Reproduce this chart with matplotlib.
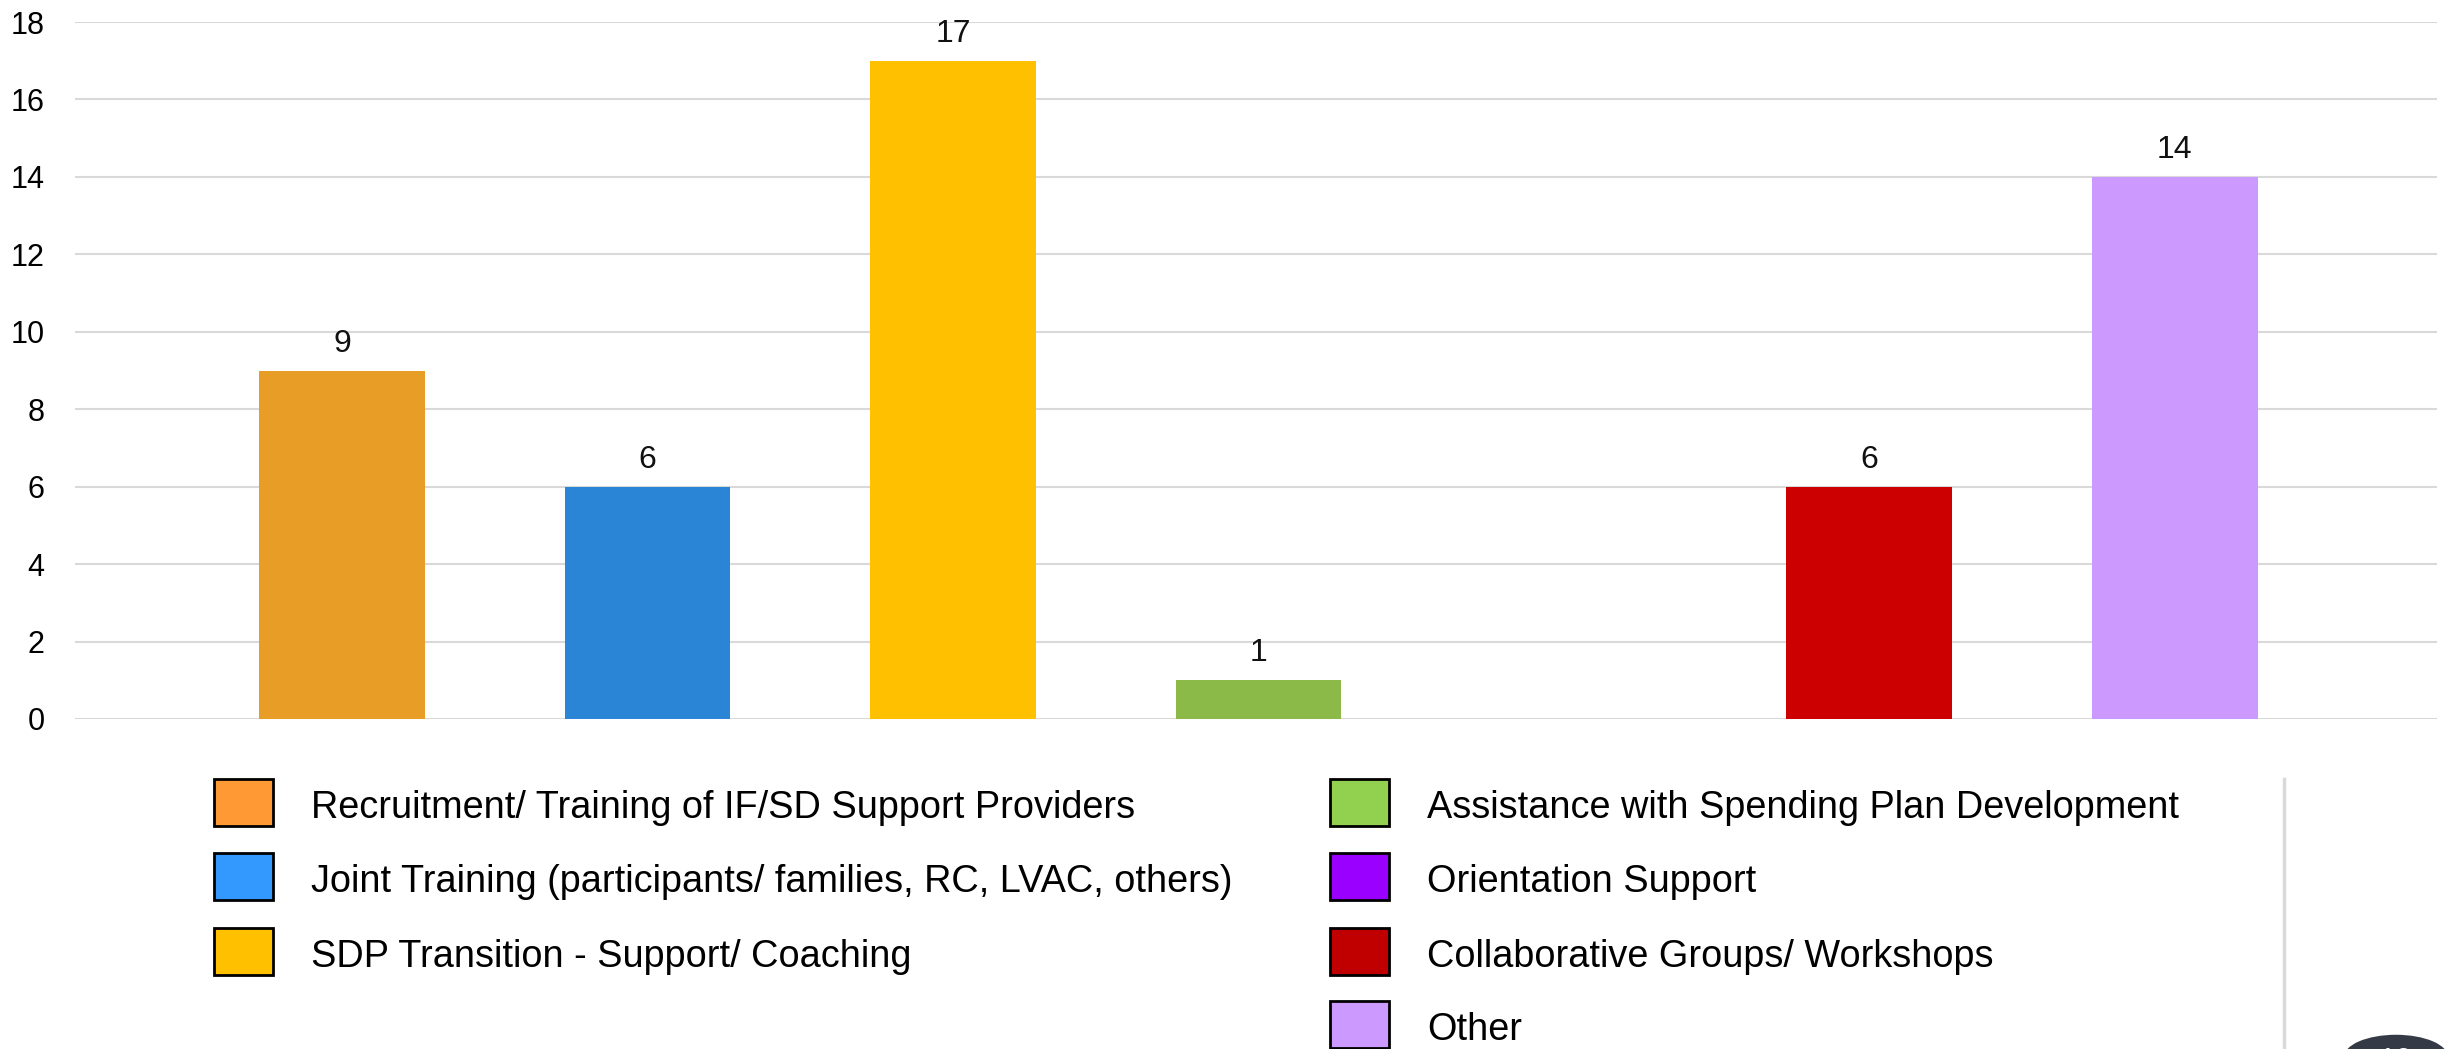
import matplotlib.pyplot as plt
from matplotlib.patches import Rectangle, Circle
import numpy as np

plt.rcParams['font.family'] = ['Liberation Sans', 'DejaVu Sans']

categories = ['Recruitment/ Training of IF/SD Support Providers',
              'Joint Training (participants/ families, RC, LVAC, others)',
              'SDP Transition - Support/ Coaching',
              'Assistance with Spending Plan Development',
              'Orientation Support',
              'Collaborative Groups/ Workshops',
              'Other']
values = [9, 6, 17, 1, 0, 6, 14]
bar_colors = ['#E89D27', '#2B85D6', '#FFC000', '#8BBA48', '#9900FF', '#CC0000', '#CC99FF']
legend_colors = ['#FF9933', '#3399FF', '#FFC000', '#92D050', '#9900FF', '#C00000', '#CC99FF']
yticks = [0, 2, 4, 6, 8, 10, 12, 14, 16, 18]
slide_no = '10'

W, H = 2453, 1049
fig = plt.figure(figsize=(W / 100, H / 100), dpi=100)
ax = fig.add_axes([75 / W, 1 - 719 / H, (2437 - 75) / W, (719 - 22) / H])

x = np.arange(len(values))
bars = ax.bar(x, values, width=0.543, color=bar_colors, zorder=3)
for xi, v in zip(x, values):
    if v > 0:
        ax.annotate(str(v), (xi, v), xytext=(0, 27), textcoords='offset pixels',
                    ha='center', va='center', fontsize=23, color='#111111')

ax.set_ylim(0, 18)
ax.set_xlim(-0.874, 6.858)
ax.set_yticks(yticks)
ax.set_yticklabels([str(t) for t in yticks], fontsize=22)
ax.set_xticks([])
ax.grid(axis='y', color='#D9D9D9', linewidth=1.5, zorder=0)
ax.tick_params(axis='y', length=0, pad=22)
for s in ax.spines.values():
    s.set_visible(False)

# legend, two columns (3 + 4 entries)
cols = [(214, 311), (1330, 1427)]
rows = [779, 853, 928, 1001]
col_of = [0, 0, 0, 1, 1, 1, 1]
row_of = [0, 1, 2, 0, 1, 2, 3]
for lab, c, ci, ri in zip(categories, legend_colors, col_of, row_of):
    sx, tx = cols[ci]
    y0 = rows[ri]
    fig.patches.append(Rectangle((sx / W, 1 - (y0 + 47) / H), 59 / W, 47 / H,
                                 transform=fig.transFigure, facecolor=c,
                                 edgecolor='black', linewidth=2))
    fig.text(tx / W, 1 - (y0 + 29) / H, lab, fontsize=27.3, va='center', ha='left')

# slide decoration
fig.add_artist(plt.Line2D([2284 / W, 2284 / W], [0, 1 - 779 / H], color='#D9D9D9',
                          linewidth=2.5, transform=fig.transFigure))
fig.patches.append(Circle((2396 / W, 1 - 1057 / H), 52 / W, transform=fig.transFigure,
                          facecolor='#343A46', edgecolor='none'))
fig.text(2396 / W, 1 - 1062 / H, slide_no, color='white', fontsize=22,
         ha='center', va='center')

fig.savefig('out.png', dpi=100)
